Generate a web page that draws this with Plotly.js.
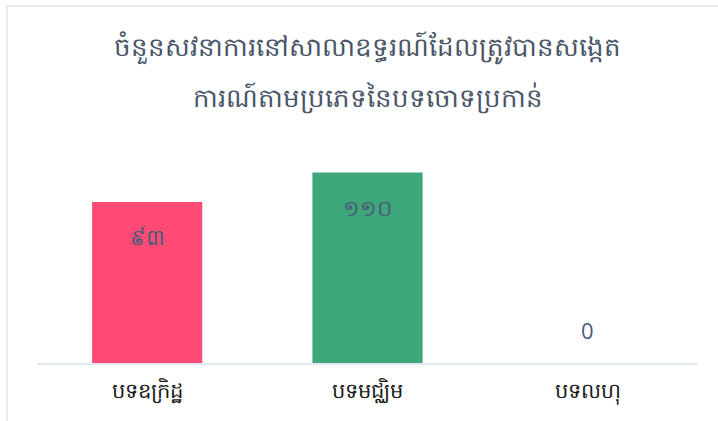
<!DOCTYPE html>
<html>
<head>
<meta charset="utf-8">
<script src="https://cdn.plot.ly/plotly-3.0.1.min.js"></script>
<style>
  body { margin: 0; background: #fff; }
  #frame { position: absolute; left: 6px; top: 5px; width: 712px; height: 416px;
           border-top: 2px solid #e5e9f0; border-left: 2px solid #e5e9f0; }
  #chart { position: absolute; left: 0; top: 0; width: 718px; height: 421px; }
</style>
</head>
<body>
<div id="frame"></div>
<div id="chart"></div>
<script>
var categories = ['បទឧក្រិដ្ឋ', 'បទមជ្ឈិម', 'បទលហុ']
var counts = [93, 110, 0]
var count_labels = ['៩៣', '១១០', '0']
var bar_colors = ['#ff4a75', '#3da77a', '#3da77a']
var title_lines = ['ចំនួនសវនាការនៅសាលាឧទ្ធរណ៍ដែលត្រូវបានសង្កេត', 'ការណ៍តាមប្រភេទនៃបទចោទប្រកាន់']

function make_hearing_figure() {
    var trace = {
        x: categories,
        y: counts,
        type: 'bar',
        marker: { color: bar_colors },
        hoverinfo: 'none'
    }

    // value labels sit a little below the top of each bar, the zero one floats above the axis
    var notes = counts.map(function (v, i) {
        return {
            x: categories[i],
            y: v,
            text: count_labels[i],
            showarrow: false,
            yanchor: 'middle',
            yshift: v > 0 ? -34 : 33,
            font: { size: 22, color: '#4a5a78' }
        }
    })

    // second title line as its own text, the khmer line spacing is wider than plotly's
    notes.push({
        xref: 'paper',
        yref: 'paper',
        x: 0.5,
        y: 1.182,
        text: title_lines[1],
        showarrow: false,
        yanchor: 'middle',
        font: { size: 26, color: '#4a5568' }
    })

    var layout = {
        width: 718,
        height: 421,
        title: {
            text: title_lines[0],
            font: { size: 26, color: '#4a5568' },
            x: 0.5,
            xref: 'paper',
            y: 0.888,
            yref: 'container',
            yanchor: 'middle'
        },
        margin: { l: 37, r: 20, t: 138, b: 58 },
        bargap: 0.5,
        xaxis: {
            showline: true,
            linecolor: '#e2e8f0',
            linewidth: 2,
            tickfont: { size: 21, color: '#1a1a1a' },
            ticklabelstandoff: 8,
            ticks: ''
        },
        yaxis: {
            range: [0, 130],
            visible: false,
            showgrid: false,
            zeroline: false
        },
        annotations: notes,
        showlegend: false,
        paper_bgcolor: 'rgba(0, 0, 0, 0)',
        plot_bgcolor: 'rgba(0, 0, 0, 0)'
    }

    Plotly.newPlot('chart', [trace], layout, { displayModeBar: false, staticPlot: true })
}

make_hearing_figure()
</script>
</body>
</html>
